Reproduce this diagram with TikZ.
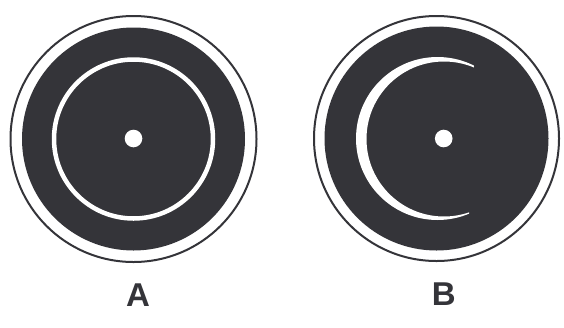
\documentclass[tikz,border=0pt]{standalone}
\usepackage{fontspec}
\setmainfont{Liberation Sans}
\definecolor{disk}{RGB}{52,52,57}
\begin{document}
\begin{tikzpicture}[x=1pt,y=-1pt,
  rim/.style={draw=disk,line width=2pt,fill=white},
  platter/.style={fill=disk},
  hole/.style={fill=white},
  lbl/.style={font=\fontsize{33}{33}\selectfont\bfseries,text=disk,inner sep=0pt}]
\useasboundingbox[fill=white] (0,0) rectangle (564,327);
% Disk A
\coordinate (ca) at (133.5,139);
\draw[rim] (ca) circle[radius=123];
\fill[platter] (ca) circle[radius=111.5];
\draw[white,line width=4.5pt] (ca) circle[radius=79.5];
\fill[hole] (133.5,138.5) circle[radius=8.8];
\node[lbl] (la) at (138,295.5) {A};
% Disk B
\coordinate (cb) at (436.5,138.5);
\draw[rim] (cb) circle[radius=122.5];
\fill[platter] (cb) circle[radius=112];
\begin{scope}
  \clip (300,40) -- (474.5,40) -- (474,66) -- (469,214) -- (469,240) -- (300,240) -- cycle;
  \fill[white,even odd rule] (437.5,138.5) circle[radius=81.5] (444,139) circle[radius=77.5];
\end{scope}
\fill[hole] (443.7,138.5) circle[radius=8.8];
\node[lbl] (lb) at (443.7,294) {B};
\end{tikzpicture}
\end{document}
